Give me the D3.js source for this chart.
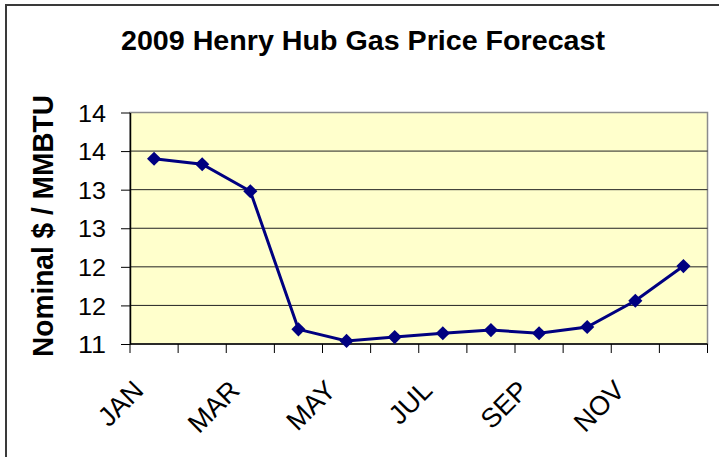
<!DOCTYPE html>
<html>
<head>
<meta charset="utf-8">
<script src="https://cdn.jsdelivr.net/npm/d3@7"></script>
<style>
  body { margin: 0; background: #fff; }
  svg { display: block; font-family: "Liberation Sans", Arial, sans-serif; }
</style>
</head>
<body>
<div id="chart"></div>
<script>
//-----------------------------DATA-----------------------------//
const months = ["JAN", "FEB", "MAR", "APR", "MAY", "JUN", "JUL", "AUG", "SEP", "OCT", "NOV", "DEC"];
const shownMonths = ["JAN", "MAR", "MAY", "JUL", "SEP", "NOV"];
const prices = [13.40, 13.33, 12.98, 11.19, 11.04, 11.09, 11.14, 11.18, 11.14, 11.22, 11.56, 12.01];
const yTicks = [11, 11.5, 12, 12.5, 13, 13.5, 14];
const yTickLabels = ["11", "12", "12", "13", "13", "14", "14"];
const title = "2009 Henry Hub Gas Price Forecast";
const yTitle = "Nominal $ / MMBTU";

//-----------------------------SVG------------------------------//
const width = 719;
const height = 457;
const plot = { left: 130, right: 707.5, top: 112.5, bottom: 344 };

const svg = d3.select("#chart").append("svg")
  .attr("width", width)
  .attr("height", height);

// outer chart border (only top/left visible in frame)
svg.append("rect")
  .attr("x", 6).attr("y", 5)
  .attr("width", 900).attr("height", 900)
  .attr("fill", "#fff")
  .attr("stroke", "#3a3a3a")
  .attr("stroke-width", 2);

//----------------------------SCALES----------------------------//
const xScale = d3.scaleBand().domain(months).range([plot.left, plot.right]);
const yScale = d3.scaleLinear().domain([11, 14]).range([plot.bottom, plot.top]);
const xMid = m => xScale(m) + xScale.bandwidth() / 2;

//-------------------------PLOT AREA----------------------------//
svg.append("rect")
  .attr("x", plot.left).attr("y", plot.top)
  .attr("width", plot.right - plot.left)
  .attr("height", plot.bottom - plot.top)
  .attr("fill", "#ffffcc")
  .attr("stroke", "#8c8c8c")
  .attr("stroke-width", 1.5);

// gridlines
svg.append("g")
  .selectAll("line")
  .data(yTicks.slice(1, -1))
  .enter().append("line")
  .attr("x1", plot.left).attr("x2", plot.right)
  .attr("y1", d => yScale(d)).attr("y2", d => yScale(d))
  .attr("stroke", "#222")
  .attr("stroke-width", 1);

//-----------------------------AXES-----------------------------//
const yaxis = d3.axisLeft(yScale)
  .tickValues(yTicks)
  .tickFormat((d, i) => yTickLabels[i])
  .tickSize(9)
  .tickPadding(15)
  .tickSizeOuter(0);

const gy = svg.append("g")
  .attr("transform", "translate(" + plot.left + ",0)")
  .call(yaxis);
gy.select(".domain").attr("stroke", "#000").attr("stroke-width", 1.5);
gy.selectAll(".tick line").attr("stroke", "#000");
gy.selectAll(".tick text")
  .attr("fill", "#000")
  .style("font-size", "24px")
  .attr("dy", "0.36em")
  .attr("textLength", 28)
  .attr("lengthAdjust", "spacingAndGlyphs")
  .attr("font-family", "Liberation Sans, Arial, sans-serif");

// x axis line + ticks at category boundaries
svg.append("line")
  .attr("x1", plot.left).attr("x2", plot.right)
  .attr("y1", plot.bottom).attr("y2", plot.bottom)
  .attr("stroke", "#000").attr("stroke-width", 1.5);

svg.append("g")
  .selectAll("line")
  .data(months.concat(["END"]))
  .enter().append("line")
  .attr("x1", d => d === "END" ? plot.right : xScale(d))
  .attr("x2", d => d === "END" ? plot.right : xScale(d))
  .attr("y1", plot.bottom).attr("y2", plot.bottom + 9)
  .attr("stroke", "#000").attr("stroke-width", 1);

svg.append("g")
  .selectAll("text")
  .data(shownMonths)
  .enter().append("text")
  .attr("transform", d => "translate(" + (xMid(d) - 9) + "," + (plot.bottom + 48) + ") rotate(-45)")
  .attr("text-anchor", "end")
  .style("font-size", "27px")
  .attr("fill", "#000")
  .text(d => d);

//----------------------------TITLES----------------------------//
svg.append("text")
  .attr("x", 363).attr("y", 50)
  .attr("text-anchor", "middle")
  .style("font-size", "28px")
  .style("font-weight", "bold")
  .attr("textLength", 484)
  .attr("lengthAdjust", "spacingAndGlyphs")
  .text(title);

svg.append("text")
  .attr("transform", "translate(53,226) rotate(-90)")
  .attr("text-anchor", "middle")
  .style("font-size", "29px")
  .style("font-weight", "bold")
  .attr("textLength", 262)
  .attr("lengthAdjust", "spacingAndGlyphs")
  .text(yTitle);

//----------------------------LINE------------------------------//
const line = d3.line()
  .x((d, i) => xMid(months[i]))
  .y(d => yScale(d));

svg.append("path")
  .datum(prices)
  .attr("d", line)
  .attr("fill", "none")
  .attr("stroke", "#000080")
  .attr("stroke-width", 3);

svg.append("g")
  .selectAll("path")
  .data(prices)
  .enter().append("path")
  .attr("d", d3.symbol().type(d3.symbolSquare).size(100))
  .attr("transform", (d, i) => "translate(" + xMid(months[i]) + "," + yScale(d) + ") rotate(45)")
  .attr("fill", "#000080");
</script>
</body>
</html>
